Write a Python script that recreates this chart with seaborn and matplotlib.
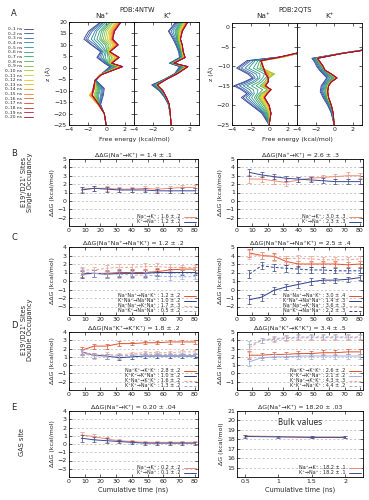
import matplotlib
matplotlib.use("Agg")
import matplotlib.pyplot as plt
from matplotlib.lines import Line2D
import seaborn as sns
import pandas as pd

# --- ESTILO ---
sns.set_style("ticks")
plt.rcParams['font.family'] = ['DejaVu Sans']
plt.rcParams['font.size'] = 4.5
plt.rcParams['axes.linewidth'] = 0.6

W, H = 369, 500

ROJO = "#e0502c"
AZUL = "#2f3f8a"
ROJO_CLARO = "#f3a08c"
AZUL_CLARO = "#98ade3"
ROJO_B = "#f08a74"
AZUL_B = "#3a4a96"

# --- DATOS PANEL A (perfiles de energia libre, ventanas acumuladas) ---
VENTANAS = [f"0–{i} ns" for i in range(1, 21)]
COLORES_VENTANA = ["#3b3b98", "#2f6fb0", "#2f9a8a", "#3aa35a", "#8cc83c",
                   "#e6d21e", "#f5a623", "#ee6a2a", "#d8282e", "#9e1040"]

NTW_NA_Z = [20, 16, 12.5, 10, 7, 4.5, 2, 0.5, -3, -5.5, -9, -12, -16, -20, -25]
NTW_NA_G = [
    [-0.6, -1.9, -2.4, -1.6, -0.6, -1.0, -0.2, 0.4, -0.6, -1.1, -0.2, -0.3, -0.6, -0.2, 0.0],
    [-0.5, -1.7, -2.2, -1.5, -0.5, -0.9, -0.1, 0.5, -0.6, -1.1, -0.3, -0.4, -0.6, -0.2, 0.0],
    [-0.3, -1.5, -2.0, -1.2, -0.4, -0.7, 0.0, 0.6, -0.6, -1.1, -0.4, -0.5, -0.7, -0.2, 0.0],
    [-0.2, -1.2, -1.6, -1.0, -0.3, -0.5, 0.1, 0.8, -0.6, -1.2, -0.5, -0.6, -0.7, -0.2, 0.0],
    [0.0, -1.0, -1.3, -0.7, -0.1, -0.3, 0.1, 0.9, -0.6, -1.2, -0.6, -0.8, -0.7, -0.2, 0.0],
    [0.2, -0.7, -1.0, -0.4, 0.0, -0.1, 0.2, 1.0, -0.6, -1.2, -0.7, -0.9, -0.7, -0.2, 0.0],
    [0.4, -0.5, -0.7, -0.1, 0.1, 0.2, 0.2, 1.1, -0.6, -1.2, -0.8, -1.0, -0.8, -0.2, 0.0],
    [0.5, -0.3, -0.5, 0.1, 0.1, 0.4, 0.3, 1.2, -0.6, -1.2, -0.9, -1.1, -0.8, -0.2, 0.0],
    [0.7, -0.1, -0.3, 0.3, 0.2, 0.6, 0.3, 1.3, -0.6, -1.2, -1.0, -1.2, -0.8, -0.2, 0.0],
    [0.8, 0.1, -0.1, 0.5, 0.2, 0.7, 0.4, 1.4, -0.6, -1.2, -1.1, -1.3, -0.8, -0.2, 0.0],
    [1.0, 0.3, 0.1, 0.7, 0.3, 0.9, 0.4, 1.5, -0.6, -1.2, -1.2, -1.6, -0.9, -0.2, 0.0],
    [1.1, 0.4, 0.3, 0.8, 0.3, 1.0, 0.5, 1.5, -0.6, -1.2, -1.3, -1.8, -0.9, -0.2, 0.0],
    [1.2, 0.5, 0.4, 0.9, 0.3, 1.1, 0.5, 1.6, -0.6, -1.2, -1.3, -1.8, -0.9, -0.2, 0.0],
    [1.3, 0.6, 0.5, 1.0, 0.4, 1.2, 0.5, 1.6, -0.6, -1.2, -1.3, -1.7, -0.9, -0.2, 0.0],
    [1.4, 0.7, 0.6, 1.1, 0.4, 1.3, 0.6, 1.7, -0.6, -1.2, -1.3, -1.6, -0.8, -0.2, 0.0],
    [1.5, 0.8, 0.6, 1.2, 0.4, 1.3, 0.6, 1.7, -0.5, -1.2, -1.3, -1.5, -0.8, -0.2, 0.0],
    [1.5, 0.8, 0.7, 1.2, 0.4, 1.4, 0.6, 1.7, -0.5, -1.2, -1.3, -1.5, -0.8, -0.2, 0.0],
    [1.6, 0.9, 0.7, 1.3, 0.4, 1.4, 0.6, 1.7, -0.5, -1.2, -1.3, -1.5, -0.8, -0.2, 0.0],
    [1.6, 0.9, 0.7, 1.3, 0.4, 1.4, 0.6, 1.8, -0.5, -1.2, -1.4, -1.5, -0.8, -0.2, 0.0],
    [1.6, 0.9, 0.7, 1.3, 0.4, 1.4, 0.6, 1.8, -0.5, -1.2, -1.4, -1.5, -0.8, -0.2, 0.0],
]

NTW_K_Z = [20, 16, 12.5, 10, 7, 4.5, 2, 0.5, -2.5, -5, -7.5, -10, -13, -16, -20, -25]
NTW_K_G = [
    [0.5, -0.3, 0.2, 0.5, 0.8, 0.9, -0.2, 0.9, 0.4, -0.7, -2.1, -1.3, -0.7, -0.3, -0.1, 0.0],
    [0.6, -0.2, 0.3, 0.6, 0.9, 1.0, -0.1, 1.0, 0.4, -0.7, -2.0, -1.2, -0.7, -0.3, -0.1, 0.0],
    [0.7, 0.0, 0.4, 0.6, 0.9, 1.0, -0.1, 1.1, 0.5, -0.7, -1.9, -1.2, -0.6, -0.3, -0.1, 0.0],
    [0.8, 0.2, 0.5, 0.7, 1.0, 1.1, 0.0, 1.2, 0.5, -0.6, -1.8, -1.1, -0.6, -0.3, -0.1, 0.0],
    [0.9, 0.4, 0.6, 0.8, 1.0, 1.1, 0.0, 1.3, 0.5, -0.6, -1.8, -1.1, -0.6, -0.3, -0.1, 0.0],
    [1.0, 0.5, 0.6, 0.8, 1.1, 1.2, 0.1, 1.4, 0.6, -0.6, -1.7, -1.0, -0.6, -0.2, -0.1, 0.0],
    [1.1, 0.6, 0.7, 0.9, 1.1, 1.2, 0.1, 1.4, 0.6, -0.6, -1.7, -1.0, -0.5, -0.2, -0.1, 0.0],
    [1.2, 0.7, 0.7, 0.9, 1.1, 1.3, 0.1, 1.5, 0.6, -0.5, -1.6, -1.0, -0.5, -0.2, -0.1, 0.0],
    [1.3, 0.8, 0.8, 1.0, 1.2, 1.3, 0.2, 1.5, 0.6, -0.5, -1.6, -1.0, -0.5, -0.2, -0.1, 0.0],
    [1.4, 0.9, 0.8, 1.0, 1.2, 1.3, 0.2, 1.6, 0.7, -0.5, -1.6, -0.9, -0.5, -0.2, -0.1, 0.0],
    [1.5, 1.0, 0.9, 1.1, 1.2, 1.4, 0.2, 1.6, 0.7, -0.5, -1.5, -0.9, -0.5, -0.2, -0.1, 0.0],
    [1.5, 1.0, 0.9, 1.1, 1.2, 1.4, 0.3, 1.7, 0.7, -0.5, -1.5, -0.9, -0.5, -0.2, -0.1, 0.0],
    [1.6, 1.1, 0.9, 1.1, 1.3, 1.4, 0.3, 1.7, 0.7, -0.5, -1.5, -0.9, -0.5, -0.2, -0.1, 0.0],
    [1.6, 1.1, 1.0, 1.2, 1.3, 1.5, 0.3, 1.7, 0.7, -0.5, -1.5, -0.9, -0.5, -0.2, -0.1, 0.0],
    [1.7, 1.2, 1.0, 1.2, 1.3, 1.5, 0.3, 1.8, 0.7, -0.5, -1.5, -0.9, -0.5, -0.2, -0.1, 0.0],
    [1.7, 1.2, 1.0, 1.2, 1.3, 1.5, 0.3, 1.8, 0.7, -0.5, -1.5, -0.9, -0.5, -0.2, -0.1, 0.0],
    [1.7, 1.2, 1.0, 1.2, 1.3, 1.5, 0.3, 1.8, 0.7, -0.5, -1.5, -0.9, -0.5, -0.2, -0.1, 0.0],
    [1.8, 1.2, 1.0, 1.2, 1.3, 1.5, 0.3, 1.8, 0.7, -0.5, -1.5, -0.9, -0.5, -0.2, -0.1, 0.0],
    [1.8, 1.2, 1.0, 1.2, 1.3, 1.5, 0.3, 1.8, 0.7, -0.5, -1.5, -0.9, -0.5, -0.2, -0.1, 0.0],
    [1.8, 1.2, 1.0, 1.2, 1.3, 1.5, 0.3, 1.8, 0.7, -0.5, -1.5, -0.9, -0.5, -0.2, -0.1, 0.0],
]

QTS_NA_Z = [-3, -6.7, -7.7, -8.6, -10.5, -12, -13, -14, -15, -16, -17, -18, -20, -22, -25]
QTS_NA_G = [
    [8, 3.4, 1.0, -2.4, -3.5, -2.3, -1.8, -2.7, -3.8, -3.0, -2.4, -3.0, -1.9, -0.8, 0.0],
    [8, 3.4, 1.0, -2.2, -3.3, -2.1, -1.7, -2.5, -3.6, -2.8, -2.2, -2.8, -1.8, -0.7, 0.0],
    [8, 3.3, 1.1, -2.0, -3.0, -1.8, -1.5, -2.2, -3.2, -2.5, -2.0, -2.5, -1.6, -0.6, 0.0],
    [8, 3.3, 1.1, -1.7, -2.6, -1.4, -1.2, -1.8, -2.8, -2.1, -1.8, -2.2, -1.4, -0.5, 0.0],
    [8, 3.2, 1.2, -1.5, -2.2, -1.0, -1.0, -1.5, -2.4, -1.7, -1.6, -1.9, -1.2, -0.4, 0.0],
    [8, 3.2, 1.3, -1.2, -1.7, -0.5, -0.7, -1.1, -1.9, -1.2, -1.3, -1.6, -1.0, -0.3, 0.0],
    [8, 3.2, 1.4, -1.0, -1.3, 0.0, -0.4, -0.8, -1.4, -0.7, -1.1, -1.4, -0.8, -0.2, 0.0],
    [8, 3.1, 1.5, -0.8, -1.0, 0.4, -0.2, -0.5, -1.0, -0.2, -0.9, -1.2, -0.6, -0.1, 0.0],
    [8, 3.1, 1.5, -0.7, -0.8, 0.6, 0.0, -0.3, -0.8, 0.1, -0.8, -1.1, -0.5, 0.0, 0.0],
    [8, 3.1, 1.5, -0.7, -0.8, 0.5, 0.0, -0.3, -0.8, 0.1, -0.7, -1.0, -0.4, 0.0, 0.0],
    [8, 3.1, 1.4, -0.7, -0.7, 0.3, -0.1, -0.2, -0.7, 0.2, -0.6, -0.9, -0.3, 0.1, 0.0],
    [8, 3.1, 1.4, -0.8, -0.7, 0.2, -0.1, -0.2, -0.6, 0.2, -0.5, -0.8, -0.2, 0.1, 0.0],
    [8, 3.0, 1.3, -0.8, -0.6, 0.0, -0.1, -0.1, -0.6, 0.2, -0.4, -0.7, -0.1, 0.1, 0.0],
    [8, 3.0, 1.3, -0.8, -0.6, -0.1, -0.1, -0.1, -0.5, 0.2, -0.3, -0.6, -0.1, 0.2, 0.0],
    [8, 3.0, 1.2, -0.9, -0.6, -0.2, -0.1, -0.1, -0.5, 0.2, -0.3, -0.6, 0.0, 0.2, 0.0],
    [8, 3.0, 1.2, -0.9, -0.6, -0.3, -0.1, -0.1, -0.4, 0.2, -0.2, -0.5, 0.0, 0.2, 0.0],
    [8, 3.0, 1.2, -0.9, -0.6, -0.3, -0.1, -0.1, -0.4, 0.2, -0.2, -0.5, 0.0, 0.2, 0.0],
    [8, 2.9, 1.1, -0.9, -0.6, -0.4, -0.1, -0.1, -0.4, 0.2, -0.2, -0.5, 0.0, 0.2, 0.0],
    [8, 2.9, 1.1, -0.9, -0.6, -0.4, -0.1, -0.1, -0.4, 0.2, -0.2, -0.5, 0.0, 0.2, 0.0],
    [8, 2.9, 1.1, -0.9, -0.6, -0.4, -0.1, -0.1, -0.4, 0.2, -0.2, -0.5, 0.0, 0.2, 0.0],
]

QTS_K_Z = [-3, -5.9, -6.7, -8, -9, -10, -11, -12, -13, -14, -15, -16.5, -18, -20, -22, -25]
QTS_K_G = [
    [8, 3.0, 0.8, -2.4, -2.1, -1.9, -1.6, -1.2, -0.8, -1.1, -1.4, -1.5, -1.2, -0.7, -0.3, 0.0],
    [8, 3.0, 0.8, -2.3, -2.0, -1.8, -1.5, -1.1, -0.7, -1.0, -1.3, -1.4, -1.1, -0.6, -0.3, 0.0],
    [8, 3.0, 0.9, -2.2, -1.9, -1.7, -1.4, -1.0, -0.5, -0.9, -1.2, -1.3, -1.0, -0.6, -0.2, 0.0],
    [8, 3.0, 0.9, -2.1, -1.8, -1.6, -1.3, -0.9, -0.4, -0.8, -1.1, -1.2, -1.0, -0.5, -0.2, 0.0],
    [8, 3.1, 1.0, -2.0, -1.8, -1.5, -1.2, -0.8, -0.2, -0.7, -1.0, -1.1, -0.9, -0.5, -0.2, 0.0],
    [8, 3.1, 1.0, -2.0, -1.7, -1.4, -1.2, -0.7, -0.1, -0.6, -0.9, -1.0, -0.9, -0.4, -0.2, 0.0],
    [8, 3.1, 1.0, -1.9, -1.7, -1.4, -1.1, -0.6, 0.0, -0.5, -0.8, -0.9, -0.8, -0.4, -0.1, 0.0],
    [8, 3.1, 1.0, -1.9, -1.6, -1.3, -1.1, -0.5, 0.1, -0.5, -0.8, -0.9, -0.8, -0.4, -0.1, 0.0],
    [8, 3.2, 1.0, -1.9, -1.6, -1.3, -1.0, -0.5, 0.1, -0.4, -0.7, -0.8, -0.7, -0.3, -0.1, 0.0],
    [8, 3.2, 1.0, -1.8, -1.6, -1.3, -1.0, -0.4, 0.2, -0.4, -0.7, -0.8, -0.7, -0.3, -0.1, 0.0],
    [8, 3.2, 1.0, -1.8, -1.5, -1.2, -1.0, -0.4, 0.2, -0.4, -0.7, -0.8, -0.7, -0.3, -0.1, 0.0],
    [8, 3.2, 1.0, -1.8, -1.5, -1.2, -1.0, -0.4, 0.2, -0.3, -0.6, -0.7, -0.6, -0.3, -0.1, 0.0],
    [8, 3.3, 1.0, -1.8, -1.5, -1.2, -1.0, -0.3, 0.3, -0.3, -0.6, -0.7, -0.6, -0.3, -0.1, 0.0],
    [8, 3.3, 1.0, -1.8, -1.5, -1.2, -1.0, -0.3, 0.3, -0.3, -0.6, -0.7, -0.6, -0.3, -0.1, 0.0],
    [8, 3.3, 1.0, -1.8, -1.5, -1.2, -1.0, -0.3, 0.3, -0.3, -0.6, -0.7, -0.6, -0.3, -0.1, 0.0],
    [8, 3.3, 1.0, -1.8, -1.5, -1.2, -1.0, -0.3, 0.3, -0.3, -0.6, -0.7, -0.6, -0.3, -0.1, 0.0],
    [8, 3.3, 1.0, -1.8, -1.5, -1.2, -1.0, -0.3, 0.3, -0.3, -0.6, -0.7, -0.6, -0.3, -0.1, 0.0],
    [8, 3.3, 1.0, -1.8, -1.5, -1.2, -1.0, -0.3, 0.3, -0.3, -0.6, -0.7, -0.6, -0.3, -0.1, 0.0],
    [8, 3.3, 1.0, -1.8, -1.5, -1.2, -1.0, -0.3, 0.3, -0.3, -0.6, -0.7, -0.6, -0.3, -0.1, 0.0],
    [8, 3.3, 1.0, -1.8, -1.5, -1.2, -1.0, -0.3, 0.3, -0.3, -0.6, -0.7, -0.6, -0.3, -0.1, 0.0],
]

# --- DATOS PANELES B-E (convergencia en tiempo acumulado) ---
TIEMPO = [8, 16, 24, 32, 40, 48, 56, 64, 72, 80]
TIEMPO_BULK = [0.5, 1.0, 1.5, 2.0]

B_IZQ_NAK = [1.4, 1.5, 1.5, 1.4, 1.4, 1.5, 1.4, 1.5, 1.6, 1.6]
B_IZQ_NAK_ERR = [0.3, 0.3, 0.3, 0.3, 0.3, 0.3, 0.3, 0.3, 0.3, 0.3]
B_IZQ_KNA = [1.3, 1.5, 1.4, 1.3, 1.3, 1.3, 1.2, 1.2, 1.2, 1.2]
B_IZQ_KNA_ERR = [0.3, 0.3, 0.3, 0.2, 0.2, 0.2, 0.2, 0.3, 0.3, 0.3]

B_DER_NAK = [2.6, 2.6, 2.4, 2.2, 2.5, 2.7, 2.8, 2.9, 3.0, 3.0]
B_DER_NAK_ERR = [0.5, 0.4, 0.4, 0.4, 0.3, 0.3, 0.3, 0.3, 0.4, 0.3]
B_DER_KNA = [3.4, 3.1, 2.9, 2.7, 2.6, 2.5, 2.4, 2.3, 2.3, 2.3]
B_DER_KNA_ERR = [0.4, 0.3, 0.3, 0.3, 0.3, 0.3, 0.3, 0.3, 0.3, 0.3]

C_IZQ_1 = [0.9, 0.9, 0.9, 1.0, 1.0, 1.0, 1.1, 1.3, 1.4, 1.4]
C_IZQ_2 = [0.8, 0.9, 0.8, 0.9, 0.9, 0.9, 1.0, 1.0, 1.0, 1.0]
C_IZQ_3 = [1.3, 1.3, 1.5, 1.6, 1.6, 1.7, 1.7, 1.6, 1.6, 1.6]
C_IZQ_4 = [1.1, 0.9, 0.8, 0.8, 0.7, 0.7, 0.6, 0.5, 0.5, 0.5]
C_IZQ_ERR = [0.4, 0.4, 0.4, 0.4, 0.4, 0.4, 0.4, 0.4, 0.3, 0.3]

C_DER_1 = [4.3, 4.0, 3.9, 3.3, 3.0, 3.0, 3.0, 3.0, 2.9, 3.0]
C_DER_2 = [-1.2, -0.9, -0.1, 0.3, 0.6, 0.9, 1.1, 1.1, 1.2, 1.4]
C_DER_3 = [4.1, 4.0, 3.8, 3.6, 3.7, 3.6, 3.5, 3.5, 3.5, 3.6]
C_DER_4 = [1.8, 2.8, 2.6, 2.5, 2.4, 2.3, 2.3, 2.2, 2.2, 2.2]
C_DER_ERR = [0.5, 0.4, 0.4, 0.4, 0.4, 0.4, 0.3, 0.3, 0.3, 0.3]

D_IZQ_1 = [1.8, 2.3, 2.3, 2.6, 2.6, 2.7, 2.7, 2.8, 2.8, 2.8]
D_IZQ_2 = [1.6, 1.2, 1.1, 0.9, 1.0, 1.1, 1.1, 1.1, 1.1, 1.1]
D_IZQ_3 = [1.6, 1.2, 1.3, 1.2, 1.4, 1.5, 1.5, 1.5, 1.6, 1.6]
D_IZQ_4 = [1.4, 1.1, 1.1, 1.1, 1.2, 1.3, 1.3, 1.3, 1.3, 1.3]
D_IZQ_ERR = [0.4, 0.3, 0.3, 0.3, 0.2, 0.2, 0.2, 0.2, 0.2, 0.2]

D_DER_1 = [2.2, 2.2, 2.3, 2.3, 2.4, 2.4, 2.5, 2.5, 2.6, 2.6]
D_DER_2 = [1.4, 1.9, 2.0, 2.0, 2.1, 2.1, 2.1, 2.1, 2.1, 2.1]
D_DER_3 = [3.1, 4.0, 4.1, 4.2, 4.3, 4.3, 4.3, 4.3, 4.3, 4.3]
D_DER_4 = [3.4, 4.0, 4.2, 4.3, 4.4, 4.4, 4.4, 4.4, 4.4, 4.4]
D_DER_ERR = [0.5, 0.3, 0.3, 0.3, 0.3, 0.3, 0.3, 0.3, 0.3, 0.3]

E_IZQ_NAK = [1.1, 0.9, 0.6, 0.4, 0.3, 0.2, 0.2, 0.2, 0.2, 0.2]
E_IZQ_KNA = [0.7, 0.5, 0.4, 0.3, 0.2, 0.1, 0.1, 0.1, 0.1, 0.1]
E_IZQ_ERR = [0.4, 0.3, 0.3, 0.2, 0.2, 0.2, 0.2, 0.2, 0.2, 0.2]

E_DER_NAK = [18.35, 18.3, 18.25, 18.25]
E_DER_KNA = [18.3, 18.25, 18.2, 18.2]
E_DER_ERR = [0.15, 0.1, 0.1, 0.1]

DASH = (0, (3, 2))


def caja(fig, x0, y0, x1, y1):
    return fig.add_axes([x0 / W, 1 - y1 / H, (x1 - x0) / W, (y1 - y0) / H])


def estilo_ejes(ax):
    ax.tick_params(direction="in", length=2, width=0.5, pad=1.5, top=True, right=True,
                   labelsize=4.5)
    for s in ax.spines.values():
        s.set_linewidth(0.6)
        s.set_color("black")


def dibujar_perfil(ax, z, filas, paleta, con_y):
    registros = []
    for etiqueta, fila in zip(VENTANAS, filas):
        for zz, gg in zip(z, fila):
            registros.append((etiqueta, gg, zz))
    df = pd.DataFrame(registros, columns=["ventana", "G", "z"])
    sns.lineplot(data=df, x="G", y="z", hue="ventana", hue_order=VENTANAS, palette=paleta,
                 sort=False, estimator=None, lw=0.6, ax=ax, legend=False)
    ax.set_xlim(-4, 3)
    ax.set_xticks([-4, -2, 0, 2])
    ax.set_xlabel("")
    ax.set_ylabel("")
    estilo_ejes(ax)
    if not con_y:
        ax.tick_params(labelleft=False)


def panel_serie(ax, x, series, titulo, ylim, yticks, xlim, xticks, ylabel):
    for y, e, etiqueta, color, estilo in series:
        sns.lineplot(x=x, y=y, color=color, linestyle=estilo, lw=0.7, ax=ax, label=etiqueta)
        ax.errorbar(x, y, yerr=e, fmt="none", ecolor=color, elinewidth=0.5, capsize=1.3,
                    capthick=0.5)
    ax.set_ylim(*ylim)
    ax.set_yticks(yticks)
    ax.set_xlim(*xlim)
    ax.set_xticks(xticks)
    ax.yaxis.grid(True, ls=(0, (3, 3)), color="#b0b0b0", lw=0.5)
    ax.set_axisbelow(True)
    ax.set_title(titulo, fontsize=4.5, pad=1.5)
    ax.set_ylabel(ylabel, fontsize=4.5, labelpad=2)
    estilo_ejes(ax)
    ax.legend(loc="lower right", frameon=False, fontsize=3.5, markerfirst=False,
              handlelength=2.6, handletextpad=0.6, labelspacing=0.0, borderaxespad=0.25,
              borderpad=0.1)


fig = plt.figure(figsize=(W / 100, H / 100), dpi=100)
paleta = sns.blend_palette(COLORES_VENTANA, len(VENTANAS))

# --- PANEL A ---
ax_a1 = caja(fig, 69, 22, 134, 125)
ax_a2 = caja(fig, 134, 22, 199, 125)
ax_a3 = caja(fig, 232, 23, 297, 125)
ax_a4 = caja(fig, 297, 23, 362, 125)

dibujar_perfil(ax_a1, NTW_NA_Z, NTW_NA_G, paleta, True)
dibujar_perfil(ax_a2, NTW_K_Z, NTW_K_G, paleta, False)
dibujar_perfil(ax_a3, QTS_NA_Z, QTS_NA_G, paleta, True)
dibujar_perfil(ax_a4, QTS_K_Z, QTS_K_G, paleta, False)
for ax in (ax_a1, ax_a2):
    ax.set_ylim(-25, 20)
    ax.set_yticks(range(-25, 21, 5))
for ax in (ax_a3, ax_a4):
    ax.set_ylim(-25, 1)
    ax.set_yticks(range(-25, 1, 5))
ax_a1.set_ylabel("z (Å)", fontsize=4.5, labelpad=2)
ax_a3.set_ylabel("z (Å)", fontsize=4.5, labelpad=2)

fig.text(137 / W, 1 - 10 / H, "PDB:4NTW", ha="center", va="center", fontsize=4.8)
fig.text(295 / W, 1 - 10 / H, "PDB:2QTS", ha="center", va="center", fontsize=4.8)
for xp, txt in [(102, "Na⁺"), (168, "K⁺"), (263, "Na⁺"), (330, "K⁺")]:
    fig.text(xp / W, 1 - 16 / H, txt, ha="center", va="center", fontsize=5.2)
for xp in (134, 297):
    fig.text(xp / W, 1 - 140 / H, "Free energy (kcal/mol)", ha="center", va="center",
             fontsize=4.5)

manijas = [Line2D([0], [0], color=c, lw=0.6) for c in paleta]
fig.legend(manijas, VENTANAS, loc="upper left", bbox_to_anchor=(5 / W, 1 - 27 / H),
           frameon=False, fontsize=3.2, markerfirst=False, handlelength=1.9,
           handletextpad=0.5, labelspacing=0.12, borderaxespad=0, borderpad=0)

# --- PANELES B-E ---
IZQ = (69, 198)
DER = (237, 363)
XT = list(range(0, 81, 10))
ylab = "ΔΔG (kcal/mol)"

ax = caja(fig, IZQ[0], 159, IZQ[1], 226)
panel_serie(ax, TIEMPO, [
    (B_IZQ_NAK, B_IZQ_NAK_ERR, "Na⁺→K⁺ : 1.6 ± .2", ROJO_B, "-"),
    (B_IZQ_KNA, B_IZQ_KNA_ERR, "K⁺→Na⁺ : 1.2 ± .2", AZUL_B, "-"),
], "ΔΔG(Na⁺→K⁺) = 1.4 ± .1", (-3, 5), range(-2, 6), (0, 82), XT, ylab)

ax = caja(fig, DER[0], 159, DER[1], 226)
panel_serie(ax, TIEMPO, [
    (B_DER_NAK, B_DER_NAK_ERR, "Na⁺→K⁺ : 3.0 ± .3", ROJO_B, "-"),
    (B_DER_KNA, B_DER_KNA_ERR, "K⁺→Na⁺ : 2.3 ± .3", AZUL_B, "-"),
], "ΔΔG(Na⁺→K⁺) = 2.6 ± .3", (-3, 5), range(-2, 6), (0, 82), XT, ylab)

ax = caja(fig, IZQ[0], 247, IZQ[1], 315)
panel_serie(ax, TIEMPO, [
    (C_IZQ_1, C_IZQ_ERR, "Na⁺Na⁺→Na⁺K⁺ : 1.2 ± .2", ROJO, "-"),
    (C_IZQ_2, C_IZQ_ERR, "K⁺Na⁺→Na⁺Na⁺ : 1.0 ± .2", AZUL, "-"),
    (C_IZQ_3, C_IZQ_ERR, "Na⁺Na⁺→K⁺Na⁺ : 1.7 ± .3", ROJO_CLARO, DASH),
    (C_IZQ_4, C_IZQ_ERR, "Na⁺K⁺→Na⁺Na⁺ : 0.5 ± .2", AZUL_CLARO, DASH),
], "ΔΔG(Na⁺Na⁺→Na⁺K⁺) = 1.2 ± .2", (-4, 4), range(-3, 5), (0, 82), XT, ylab)

ax = caja(fig, DER[0], 247, DER[1], 315)
panel_serie(ax, TIEMPO, [
    (C_DER_1, C_DER_ERR, "Na⁺Na⁺→Na⁺K⁺ : 3.0 ± .4", ROJO, "-"),
    (C_DER_2, C_DER_ERR, "K⁺Na⁺→Na⁺Na⁺ : 1.4 ± .3", AZUL, "-"),
    (C_DER_3, C_DER_ERR, "Na⁺Na⁺→K⁺Na⁺ : 3.6 ± .3", ROJO_CLARO, DASH),
    (C_DER_4, C_DER_ERR, "Na⁺K⁺→Na⁺Na⁺ : 2.2 ± .3", AZUL, DASH),
], "ΔΔG(Na⁺Na⁺→Na⁺K⁺) = 2.5 ± .4", (-3, 5), range(-2, 6), (0, 82), XT, ylab)

ax = caja(fig, IZQ[0], 332, IZQ[1], 390)
panel_serie(ax, TIEMPO, [
    (D_IZQ_1, D_IZQ_ERR, "Na⁺K⁺→K⁺K⁺ : 2.8 ± .2", ROJO, "-"),
    (D_IZQ_2, D_IZQ_ERR, "K⁺K⁺→K⁺Na⁺ : 1.0 ± .2", AZUL, "-"),
    (D_IZQ_3, D_IZQ_ERR, "K⁺Na⁺→K⁺K⁺ : 1.6 ± .2", ROJO_CLARO, DASH),
    (D_IZQ_4, D_IZQ_ERR, "K⁺K⁺→Na⁺K⁺ : 1.3 ± .2", AZUL_CLARO, DASH),
], "ΔΔG(Na⁺K⁺→K⁺K⁺) = 1.8 ± .2", (-3, 4), range(-2, 5), (0, 82), XT, ylab)

ax = caja(fig, DER[0], 332, DER[1], 390)
panel_serie(ax, TIEMPO, [
    (D_DER_1, D_DER_ERR, "Na⁺K⁺→K⁺K⁺ : 2.6 ± .2", ROJO, "-"),
    (D_DER_2, D_DER_ERR, "K⁺K⁺→K⁺Na⁺ : 2.1 ± .2", AZUL_CLARO, "-"),
    (D_DER_3, D_DER_ERR, "K⁺Na⁺→K⁺K⁺ : 4.3 ± .3", ROJO_CLARO, DASH),
    (D_DER_4, D_DER_ERR, "K⁺K⁺→Na⁺K⁺ : 4.4 ± .2", AZUL_CLARO, DASH),
], "ΔΔG(Na⁺K⁺→K⁺K⁺) = 3.4 ± .5", (-2, 5), range(-1, 6), (0, 82), XT, ylab)

ax = caja(fig, IZQ[0], 411, IZQ[1], 477)
panel_serie(ax, TIEMPO, [
    (E_IZQ_NAK, E_IZQ_ERR, "Na⁺→K⁺ : 0.2 ± .2", ROJO_B, "-"),
    (E_IZQ_KNA, E_IZQ_ERR, "K⁺→Na⁺ : 0.1 ± .2", AZUL_B, "-"),
], "ΔΔG(Na⁺→K⁺) = 0.20 ± .04", (-4, 4), range(-3, 5), (0, 82), XT, ylab)
ax.set_xlabel("Cumulative time (ns)", fontsize=4.8, labelpad=2)

ax = caja(fig, DER[0], 411, DER[1], 477)
panel_serie(ax, TIEMPO_BULK, [
    (E_DER_NAK, E_DER_ERR, "Na⁺→K⁺ : 18.2 ± .1", ROJO_B, "-"),
    (E_DER_KNA, E_DER_ERR, "K⁺→Na⁺ : 18.2 ± .1", AZUL_B, "-"),
], "ΔG(Na⁺→K⁺) = 18.20 ± .03", (14, 21), range(15, 22), (0.38, 2.27),
    [0.5, 1, 1.5, 2], "ΔG (kcal/mol)")
ax.set_xticklabels(["0.5", "1", "1.5", "2"])
ax.set_xlabel("Cumulative time (ns)", fontsize=4.8, labelpad=2)
ax.text(0.5, 0.82, "Bulk values", transform=ax.transAxes, ha="center", va="center",
        fontsize=5.5)

# --- LETRAS Y ETIQUETAS DE FILA ---
for letra, yp in [("A", 14), ("B", 154), ("C", 238), ("D", 326), ("E", 408)]:
    fig.text(14 / W, 1 - yp / H, letra, ha="center", va="center", fontsize=6)
fig.text(27 / W, 1 - 182 / H, "E19'/D21' Sites\nSingle Occupancy", rotation=90,
         ha="center", va="center", fontsize=4.8, linespacing=1.1)
fig.text(27 / W, 1 - 330 / H, "E19'/D21' Sites\nDouble Occupancy", rotation=90,
         ha="center", va="center", fontsize=4.8, linespacing=1.1)
fig.text(22 / W, 1 - 442 / H, "GAS site", rotation=90, ha="center", va="center",
         fontsize=4.8)

fig.savefig("out.png", dpi=100)
